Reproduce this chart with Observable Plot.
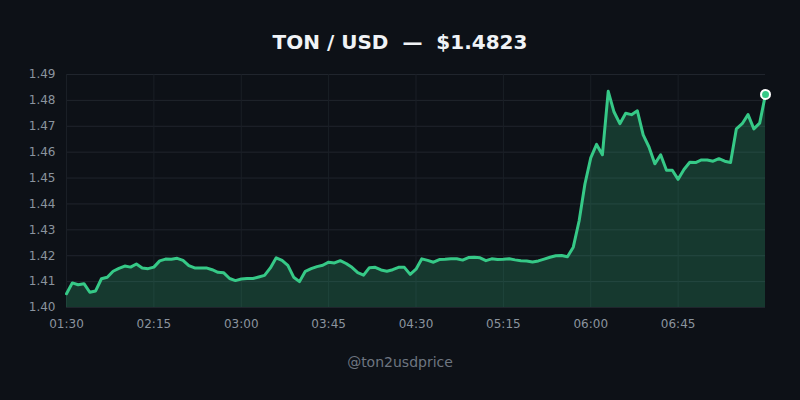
<!DOCTYPE html>
<html>
<head>
<meta charset="utf-8">
<script src="https://cdn.jsdelivr.net/npm/d3@7"></script>
<script src="https://cdn.jsdelivr.net/npm/@observablehq/plot@0.6"></script>
<style>
  html, body { margin: 0; padding: 0; background: #0d1117; }
  body { width: 800px; height: 400px; overflow: hidden; font-family: "DejaVu Sans", sans-serif; }
  #title { padding-top: 30px; height: 32px; line-height: 24px; font-size: 20px; font-weight: bold; color: #f0f3f6; text-align: center; }
  #chart { height: 275px; }
  #caption { margin-top: 15px; line-height: 20px; font-size: 14px; color: #6e7681; text-align: center; }
</style>
</head>
<body>
<div id="title">TON / USD &nbsp;—&nbsp; $1.4823</div>
<div id="chart"></div>
<div id="caption">@ton2usdprice</div>
<script>
// precio cada 3 minutos desde las 01:30 (UTC)
const startTime = "2024-01-01T01:30:00Z"
const stepMinutes = 3
const prices = [
  1.4053, 1.4095, 1.4088, 1.4092, 1.4059, 1.4064, 1.4111, 1.4117, 1.4140, 1.4151,
  1.4160, 1.4156, 1.4168, 1.4153, 1.4150, 1.4156, 1.4180, 1.4187, 1.4186, 1.4190,
  1.4182, 1.4162, 1.4153, 1.4153, 1.4153, 1.4146, 1.4136, 1.4134, 1.4112, 1.4104,
  1.4110, 1.4112, 1.4112, 1.4118, 1.4124, 1.4153, 1.4192, 1.4182, 1.4163, 1.4117,
  1.4100, 1.4140, 1.4150, 1.4158, 1.4163, 1.4175, 1.4172, 1.4181, 1.4170, 1.4155,
  1.4135, 1.4125, 1.4154, 1.4155, 1.4145, 1.4140, 1.4146, 1.4155, 1.4155, 1.4128,
  1.4148, 1.4188, 1.4182, 1.4175, 1.4185, 1.4186, 1.4188, 1.4188, 1.4183, 1.4193,
  1.4194, 1.4192, 1.4181, 1.4188, 1.4185, 1.4186, 1.4188, 1.4184, 1.4181, 1.4180,
  1.4176, 1.4180, 1.4187, 1.4194, 1.4200, 1.4201, 1.4196, 1.4233, 1.4334, 1.4477,
  1.4578, 1.4630, 1.4590, 1.4835, 1.4755, 1.4710, 1.4750, 1.4745, 1.4760, 1.4667,
  1.4620, 1.4555, 1.4590, 1.4530, 1.4530, 1.4495, 1.4533, 1.4561, 1.4560, 1.4570,
  1.4570, 1.4565, 1.4575, 1.4565, 1.4560, 1.4690, 1.4710, 1.4745, 1.4690, 1.4712,
  1.4823
]
const xTickLabels = ["01:30", "02:15", "03:00", "03:45", "04:30", "05:15", "06:00", "06:45"]
const yTicks = [1.40, 1.41, 1.42, 1.43, 1.44, 1.45, 1.46, 1.47, 1.48, 1.49]
const endLabel = "07:30"

const green = "#36c987"
const t0 = new Date(startTime)
const data = prices.map((p, i) => ({time: new Date(+t0 + i * stepMinutes * 60000), price: p}))
const parseHM = s => new Date("2024-01-01T" + s + ":00Z")
const xTicks = xTickLabels.map(parseHM)
const last = data[data.length - 1]

let chart = Plot.plot({
  width: 800,
  height: 275,
  marginTop: 12,
  marginBottom: 30,
  marginLeft: 66,
  marginRight: 35,
  style: {background: "transparent", color: "#8b949e", fontFamily: "DejaVu Sans", fontSize: "12px"},
  x: {type: "utc", domain: [t0, parseHM(endLabel)], ticks: xTicks, tickFormat: d3.utcFormat("%H:%M"), tickSize: 0, tickPadding: 12, label: null},
  y: {domain: [1.40, 1.49], ticks: yTicks, tickFormat: d3.format(".2f"), tickSize: 0, tickPadding: 11, label: null},
  marks: [
    Plot.gridY(yTicks, {stroke: "#20252d", strokeOpacity: 1}),
    Plot.gridX(xTicks, {stroke: "#1a1f26", strokeOpacity: 1}),
    Plot.areaY(data, {x: "time", y1: 1.40, y2: "price", fill: green, fillOpacity: 0.22}),
    Plot.lineY(data, {x: "time", y: "price", stroke: green, strokeWidth: 3, strokeLinejoin: "round"}),
    Plot.dot([last], {x: "time", y: "price", r: 4.5, fill: green, stroke: "white", strokeWidth: 2})
  ]
})
d3.select('#chart').append(() => chart)
</script>
</body>
</html>
